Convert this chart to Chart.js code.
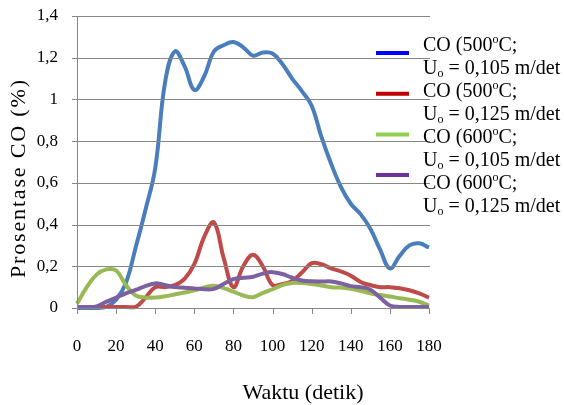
<!DOCTYPE html>
<html>
<head>
<meta charset="utf-8">
<script src="https://cdn.jsdelivr.net/npm/chart.js@4/dist/chart.umd.min.js"></script>
<style>
  html, body { margin: 0; padding: 0; background: #fff; }
</style>
</head>
<body>
<canvas id="coChart" width="564" height="405"></canvas>
<script>
// waktu (detik)
const waktu = [0, 5, 10, 15, 20, 25, 30, 35, 40, 45, 50, 55, 60, 65, 70, 75, 80, 85, 90,
    95, 100, 105, 110, 115, 120, 125, 130, 135, 140, 145, 150, 155, 160, 165, 170, 175, 180];

// prosentase CO (%)
const co500a = [0, 0, 0, 0.005, 0.04, 0.12, 0.29, 0.47, 0.67, 1.08, 1.23, 1.16, 1.045, 1.11, 1.23, 1.26, 1.275, 1.25, 1.21,
    1.225, 1.22, 1.17, 1.1, 1.04, 0.97, 0.82, 0.69, 0.58, 0.5, 0.45, 0.38, 0.28, 0.19, 0.25, 0.3, 0.31, 0.29];
const co500b = [0.005, 0.005, 0.005, 0.005, 0.005, 0.005, 0.005, 0.05, 0.1, 0.1, 0.11, 0.14, 0.21, 0.34, 0.41, 0.24, 0.1, 0.2, 0.255,
    0.2, 0.11, 0.115, 0.13, 0.17, 0.215, 0.21, 0.19, 0.175, 0.155, 0.125, 0.11, 0.1, 0.1, 0.095, 0.085, 0.07, 0.05];
const co600a = [0.02, 0.1, 0.16, 0.185, 0.18, 0.11, 0.06, 0.05, 0.05, 0.056, 0.065, 0.074, 0.085, 0.098, 0.107, 0.095, 0.078, 0.06, 0.052,
    0.072, 0.09, 0.11, 0.12, 0.12, 0.115, 0.108, 0.1, 0.098, 0.092, 0.083, 0.07, 0.062, 0.055, 0.047, 0.04, 0.03, 0.012];
const co600b = [0.005, 0.005, 0.008, 0.03, 0.05, 0.07, 0.087, 0.105, 0.118, 0.11, 0.1, 0.097, 0.094, 0.09, 0.092, 0.115, 0.138, 0.145, 0.15,
    0.165, 0.172, 0.163, 0.145, 0.132, 0.128, 0.127, 0.127, 0.118, 0.105, 0.1, 0.088, 0.05, 0.012, 0.005, 0.005, 0.005, 0.005];

// legend text ("^o" = superscript o, "_o" = subscript o)
const legendText = [
    ["CO (500^oC;", "U_o = 0,105 m/det"],
    ["CO (500^oC;", "U_o = 0,125 m/det"],
    ["CO (600^oC;", "U_o = 0,105 m/det"],
    ["CO (600^oC;", "U_o = 0,125 m/det"]
];

const lineColors = ["#4A7EBB", "#BE4B48", "#98B954", "#7D60A0"];
const legendColors = ["#0000FF", "#C00000", "#92D050", "#7030A0"];

const SERIF = "'Liberation Serif', 'Times New Roman', serif";
const GRID = "#868686";

function toPoints(values) {
    return waktu.map((t, i) => ({ x: t, y: values[i] }));
}

function yLabel(value) {
    const v = Math.round(value * 10) / 10;
    return Number.isInteger(v) ? String(v) : v.toFixed(1).replace(".", ",");
}

function drawRich(ctx, str, x, y, size) {
    const parts = str.split(/(\^o|_o)/);
    let cx = x;
    parts.forEach(p => {
        if (!p) return;
        if (p === "^o" || p === "_o") {
            const small = Math.round(size * 0.62);
            ctx.font = small + "px " + SERIF;
            const dy = p === "^o" ? -size * 0.32 : size * 0.22;
            ctx.fillText("o", cx, y + dy);
            cx += ctx.measureText("o").width;
        } else {
            ctx.font = size + "px " + SERIF;
            ctx.fillText(p, cx, y);
            cx += ctx.measureText(p).width;
        }
    });
}

// grid lines, axis line and tick marks from the chart's own scales,
// filled as 1px rectangles on top of the finished chart
const gridPlugin = {
    id: "excelGrid",
    afterDraw(chart) {
        const ctx = chart.ctx;
        const a = chart.chartArea;
        const xs = chart.scales.x;
        const ys = chart.scales.y;
        const left = Math.round(a.left);
        const right = Math.round(a.right);
        const bottom = Math.round(a.bottom);
        ctx.save();
        ctx.globalCompositeOperation = "source-over";
        ctx.globalAlpha = 1;
        ctx.fillStyle = GRID;
        ys.ticks.forEach(t => {
            const py = Math.round(ys.getPixelForValue(t.value));
            ctx.fillRect(left - 5, py, right - left + 6, 1);
        });
        xs.ticks.forEach(t => {
            const px = Math.round(xs.getPixelForValue(t.value));
            ctx.fillRect(px, bottom, 1, 6);
        });
        ctx.fillRect(left, Math.round(a.top), 1, bottom - Math.round(a.top) + 6);
        ctx.restore();
    }
};

const extrasPlugin = {
    id: "extras",
    afterDraw(chart) {
        const ctx = chart.ctx;
        const area = chart.chartArea;
        ctx.save();
        ctx.fillStyle = "#000";
        ctx.textBaseline = "middle";

        // y axis title, spaced out like the original
        ctx.save();
        ctx.translate(19, 179);
        ctx.rotate(-Math.PI / 2);
        ctx.font = "22px " + SERIF;
        ctx.textAlign = "center";
        ctx.fillText("Prosentase CO (%)".split("").join("\u200A"), 0, 0);
        ctx.restore();

        // x axis title
        ctx.font = "22px " + SERIF;
        ctx.textAlign = "center";
        ctx.fillText("Waktu (detik)", 303, area.bottom + 85);

        // legend
        ctx.textAlign = "left";
        legendText.forEach((lines, i) => {
            const sy = 53 + 40.7 * i;
            ctx.strokeStyle = legendColors[i];
            ctx.lineWidth = 4;
            ctx.beginPath();
            ctx.moveTo(376, sy);
            ctx.lineTo(409, sy);
            ctx.stroke();
            const ty = 46 + 46 * i;
            drawRich(ctx, lines[0], 423, ty, 20);
            drawRich(ctx, lines[1], 423, ty + 23, 20);
        });
        ctx.restore();
    }
};

const seriesList = [co500a, co500b, co600a, co600b];

new Chart(document.getElementById("coChart").getContext("2d"), {
    type: "line",
    data: {
        datasets: seriesList.map((values, i) => ({
            label: legendText[i].join(" ").replace("^o", "º").replace("_o", "o"),
            data: toPoints(values),
            borderColor: lineColors[i],
            borderWidth: 4,
            pointRadius: 0,
            tension: 0.4,
            clip: false,
            order: 4 - i
        }))
    },
    options: {
        responsive: false,
        animation: false,
        layout: {
            padding: { top: 16, right: 135, left: 0, bottom: 0 }
        },
        plugins: {
            legend: { display: false },
            tooltip: { enabled: false }
        },
        scales: {
            x: {
                type: "linear",
                min: 0,
                max: 180,
                ticks: {
                    stepSize: 20,
                    padding: 22,
                    color: "#000",
                    font: { family: SERIF, size: 17 },
                    maxRotation: 0
                },
                grid: { display: false, tickLength: 6 },
                border: { display: false },
                afterFit(scale) { scale.height = 97; }
            },
            y: {
                min: 0,
                max: 1.4,
                ticks: {
                    stepSize: 0.2,
                    padding: 14,
                    color: "#000",
                    font: { family: SERIF, size: 17 },
                    callback: yLabel
                },
                grid: { display: false, tickLength: 5 },
                border: { display: false },
                afterFit(scale) {
                    scale.width = 77;
                    scale.paddingTop = 0;
                    scale.paddingBottom = 0;
                }
            }
        }
    },
    plugins: [gridPlugin, extrasPlugin]
});
</script>
</body>
</html>
